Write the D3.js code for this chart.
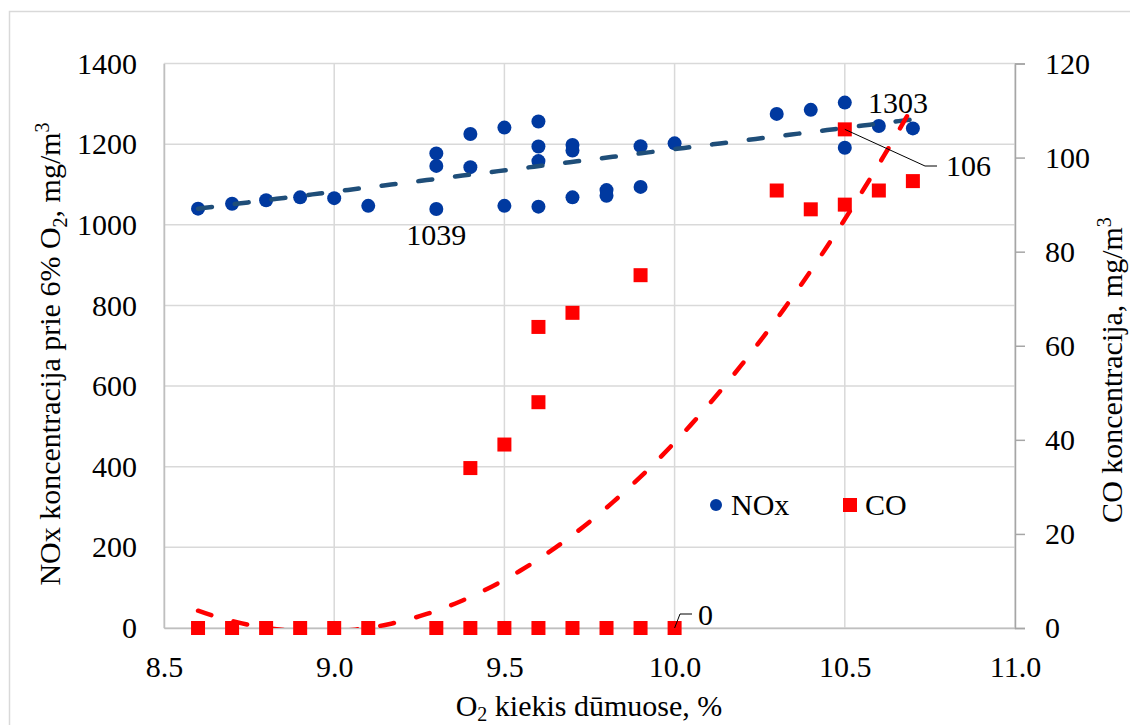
<!DOCTYPE html>
<html><head><meta charset="utf-8">
<script src="https://cdn.jsdelivr.net/npm/d3@7"></script>
<style>
html,body{margin:0;padding:0;background:#fff;}
svg text{font-family:"Liberation Serif","Times New Roman",serif;fill:#000;}
</style></head>
<body><svg id="c" width="1130" height="725"></svg>
<script>
// ---- data ----
const noxX = [8.6,8.7,8.8,8.9,9.0,9.1,9.3,9.3,9.3,9.4,9.4,9.5,9.5,9.6,9.6,9.6,9.6,9.7,9.7,9.7,9.8,9.8,9.9,9.9,10.0,10.3,10.4,10.5,10.5,10.6,10.7];
const noxY = [1040,1052,1061,1068,1066,1047,1039,1146,1177,1143,1225,1241,1047,1256,1194,1158,1045,1198,1184,1068,1086,1072,1195,1094,1202,1275,1285,1303,1191,1245,1239];
const coX = [8.6,8.7,8.8,8.9,9.0,9.1,9.3,9.4,9.5,9.6,9.7,9.8,9.9,10.0,9.4,9.5,9.6,9.6,9.7,9.9,10.3,10.4,10.5,10.5,10.6,10.7];
const coY = [0,0,0,0,0,0,0,0,0,0,0,0,0,0,34,39,48,64,67,75,93,89,90,106,93,95];
const xTicks = [8.5,9.0,9.5,10.0,10.5,11.0];
const yLeftTicks = [0,200,400,600,800,1000,1200,1400];
const yRightTicks = [0,20,40,60,80,100,120];
const noxTrend = [105.5, 132.7];            // linear: slope, intercept
const coTrend = [36.5, -653.35, 2922.94];   // quadratic: c2, c1, c0
const trendRange = [8.6, 10.7];
const labels = {xTitle:"O", yLeft:"NOx koncentracija prie 6% O", yRight:"CO koncentracija, mg/m"};

const svg = d3.select("#c");
const L=164, R=1015, T=63.5, B=628;
const x = d3.scaleLinear().domain([8.5,11]).range([L,R]);
const yL = d3.scaleLinear().domain([0,1400]).range([B,T]);
const yR = d3.scaleLinear().domain([0,120]).range([B,T]);

// outer border
svg.append("rect").attr("x",9.5).attr("y",11.5).attr("width",1130).attr("height",725)
  .attr("fill","none").attr("stroke","#d9d9d9").attr("stroke-width",1.5);

// gridlines
const g = svg.append("g");
g.selectAll("line.h").data(yLeftTicks).join("line")
  .attr("x1",L).attr("x2",R).attr("y1",d=>yL(d)).attr("y2",d=>yL(d))
  .attr("stroke","#d9d9d9").attr("stroke-width",1.5);
g.selectAll("line.v").data(xTicks).join("line")
  .attr("x1",d=>x(d)).attr("x2",d=>x(d)).attr("y1",T).attr("y2",B)
  .attr("stroke","#d9d9d9").attr("stroke-width",1.5);

// axes
const ax = d3.axisBottom(x).tickValues(xTicks).tickFormat(d3.format(".1f")).tickSize(0).tickPadding(28);
const ayl = d3.axisLeft(yL).tickValues(yLeftTicks).tickFormat(d3.format("d")).tickSize(0).tickPadding(27);
const ayr = d3.axisRight(yR).tickValues(yRightTicks).tickFormat(d3.format("d")).tickSize(10).tickPadding(20);
function styleAxis(sel, col){
  sel.select(".domain").attr("stroke",col).attr("stroke-width",1.5);
  sel.selectAll(".tick line").attr("stroke",col).attr("stroke-width",1.5);
  sel.selectAll("text").attr("font-size",30).attr("font-family","Liberation Serif").attr("fill","#000");
}
svg.append("g").attr("transform",`translate(0,${B})`).call(ax).call(s=>styleAxis(s,"#bfbfbf"));
svg.append("g").attr("transform",`translate(${L},0)`).call(ayl).call(s=>styleAxis(s,"#bfbfbf"));
svg.append("g").attr("transform",`translate(${R},0)`).call(ayr).call(s=>styleAxis(s,"#a6a6a6"));
svg.selectAll(".domain").attr("fill","none");

// clip for trendlines
svg.append("clipPath").attr("id","plot").append("rect").attr("x",L).attr("y",T).attr("width",R-L).attr("height",B-T);

// NOx markers
svg.append("g").selectAll("circle").data(noxX.map((d,i)=>[d,noxY[i]])).join("circle")
  .attr("cx",d=>x(d[0])).attr("cy",d=>yL(d[1])).attr("r",7).attr("fill","#0039a0");
// NOx trend
const samples = d3.range(0,101).map(i=>trendRange[0]+(trendRange[1]-trendRange[0])*i/100);
svg.append("path").attr("clip-path","url(#plot)")
  .attr("d",d3.line().x(d=>x(d)).y(d=>yL(noxTrend[0]*d+noxTrend[1]))(samples))
  .attr("fill","none").attr("stroke","#1f4e79").attr("stroke-width",4.5)
  .attr("stroke-dasharray","14,23").attr("stroke-linecap","round");
// CO markers
svg.append("g").selectAll("rect").data(coX.map((d,i)=>[d,coY[i]])).join("rect")
  .attr("x",d=>x(d[0])-7).attr("y",d=>yR(d[1])-7).attr("width",14).attr("height",14).attr("fill","#ff0000");
// CO trend
svg.append("path").attr("clip-path","url(#plot)")
  .attr("d",d3.line().x(d=>x(d)).y(d=>yR(coTrend[0]*d*d+coTrend[1]*d+coTrend[2]))(samples))
  .attr("fill","none").attr("stroke","#ff0000").attr("stroke-width",4.5)
  .attr("stroke-dasharray","14,23").attr("stroke-linecap","round");

// data labels
const lab = svg.append("g").attr("font-size",30);
lab.append("text").attr("x",x(9.3)).attr("y",245).attr("text-anchor","middle").text("1039");
lab.append("text").attr("x",868).attr("y",113).text("1303");
lab.append("path").attr("d",`M${x(10.5)},${yR(106)} L925,166 L937,166`).attr("fill","none").attr("stroke","#000").attr("stroke-width",1);
lab.append("text").attr("x",946).attr("y",176).text("106");
lab.append("path").attr("d",`M${x(10.0)},${yR(0)} L680,614 L692,614`).attr("fill","none").attr("stroke","#000").attr("stroke-width",1);
lab.append("text").attr("x",698).attr("y",625).text("0");

// legend
const lg = svg.append("g");
lg.append("circle").attr("cx",716).attr("cy",505).attr("r",6).attr("fill","#0039a0");
lg.append("text").attr("x",731).attr("y",515).attr("font-size",30).text("NOx");
lg.append("rect").attr("x",843).attr("y",498).attr("width",14).attr("height",14).attr("fill","#ff0000");
lg.append("text").attr("x",865).attr("y",515).attr("font-size",30).text("CO");

// axis titles
const xt = svg.append("text").attr("x",589).attr("y",716).attr("text-anchor","middle").attr("font-size",30);
xt.append("tspan").text(labels.xTitle);
xt.append("tspan").attr("font-size",20).attr("dy",5).text("2");
xt.append("tspan").attr("dy",-5).text(" kiekis dūmuose, %");

const yt = svg.append("text").attr("transform","translate(60,354) rotate(-90)").attr("text-anchor","middle").attr("font-size",30);
yt.append("tspan").text(labels.yLeft);
yt.append("tspan").attr("font-size",20).attr("dy",7).text("2");
yt.append("tspan").attr("dy",-7).text(", mg/m");
yt.append("tspan").attr("font-size",20).attr("dy",-11).text("3");

const rt = svg.append("text").attr("transform","translate(1122,370) rotate(-90)").attr("text-anchor","middle").attr("font-size",30);
rt.append("tspan").text(labels.yRight);
rt.append("tspan").attr("font-size",20).attr("dy",-11).text("3");
</script></body></html>
